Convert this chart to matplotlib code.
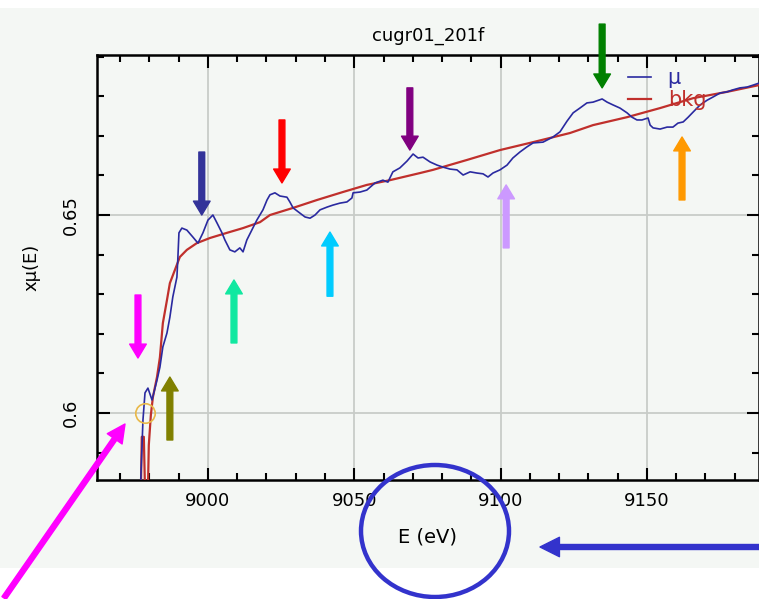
import matplotlib
matplotlib.use("Agg")
import matplotlib.pyplot as plt
from matplotlib.patches import Ellipse, Rectangle
from matplotlib.ticker import MultipleLocator, FixedLocator

# ---- data ----
mu_E = [8976.8, 8977.8, 8978.5, 8979.5, 8980.9, 8982.6, 8983.6, 8984.6, 8986.0, 8987.0,
        8988.0, 8989.4, 8989.7, 8990.1, 8991.1, 8992.8, 8994.9, 8996.6, 8998.3, 9000.0,
        9001.7, 9003.1, 9004.8, 9005.8, 9007.5, 9009.2, 9010.9, 9012.0, 9013.3, 9015.0,
        9016.7, 9018.8, 9020.2, 9021.2, 9022.9, 9024.6, 9027.0, 9028.0, 9029.1, 9031.4,
        9033.2, 9034.9, 9036.6, 9038.3, 9040.7, 9042.7, 9045.1, 9047.5, 9049.2, 9049.6,
        9052.0, 9054.3, 9057.1, 9059.8, 9061.5, 9063.2, 9065.6, 9068.0, 9070.1, 9071.8,
        9073.5, 9075.9, 9078.3, 9080.3, 9082.7, 9085.1, 9087.2, 9089.6, 9091.9, 9094.0,
        9095.7, 9097.4, 9099.8, 9102.2, 9104.2, 9106.6, 9109.0, 9111.1, 9114.5, 9117.9,
        9120.3, 9122.7, 9124.8, 9127.1, 9129.5, 9131.6, 9134.7, 9136.4, 9138.4, 9140.8,
        9143.2, 9144.9, 9146.6, 9148.3, 9150.4, 9151.1, 9152.1, 9154.5, 9156.9, 9158.9,
        9160.6, 9162.4, 9164.1, 9165.8, 9168.2, 9170.6, 9172.6, 9175.0, 9177.4, 9179.4,
        9181.8, 9184.2, 9186.3, 9188.3]
mu_val = [0.5780, 0.5982, 0.6051, 0.6063, 0.6033, 0.6083, 0.6116, 0.6167, 0.6202, 0.6242,
          0.6293, 0.6343, 0.6386, 0.6455, 0.6467, 0.6462, 0.6444, 0.6429, 0.6455, 0.6487,
          0.6500, 0.6480, 0.6455, 0.6437, 0.6412, 0.6407, 0.6417, 0.6407, 0.6437, 0.6462,
          0.6487, 0.6513, 0.6538, 0.6551, 0.6556, 0.6548, 0.6545, 0.6533, 0.6518, 0.6505,
          0.6495, 0.6492, 0.6500, 0.6513, 0.6520, 0.6525, 0.6530, 0.6533, 0.6543, 0.6556,
          0.6558, 0.6563, 0.6581, 0.6588, 0.6583, 0.6609, 0.6619, 0.6636, 0.6654, 0.6644,
          0.6646, 0.6634, 0.6626, 0.6621, 0.6616, 0.6614, 0.6601, 0.6609, 0.6606, 0.6604,
          0.6596, 0.6606, 0.6614, 0.6626, 0.6644, 0.6659, 0.6672, 0.6682, 0.6684, 0.6697,
          0.6710, 0.6737, 0.6758, 0.6770, 0.6783, 0.6785, 0.6793, 0.6785, 0.6778, 0.6770,
          0.6758, 0.6747, 0.6740, 0.6740, 0.6745, 0.6727, 0.6720, 0.6717, 0.6722, 0.6722,
          0.6732, 0.6735, 0.6747, 0.6760, 0.6778, 0.6790, 0.6798, 0.6808, 0.6811, 0.6816,
          0.6821, 0.6823, 0.6828, 0.6833]

bkg_E = [8977.1, 8977.4, 8978.1, 8978.5, 8979.5, 8979.8, 8980.5, 8981.2, 8982.6, 8983.6,
         8984.6, 8986.0, 8987.0, 8988.7, 8990.4, 8992.8, 8996.2, 9000.7, 9006.5, 9012.0,
         9017.8, 9021.2, 9029.1, 9037.3, 9046.1, 9054.3, 9062.2, 9072.5, 9076.9, 9088.5,
         9099.8, 9111.1, 9123.7, 9131.6, 9143.2, 9154.5, 9165.8, 9177.4, 9188.3]
bkg_val = [0.5806, 0.5940, 0.5940, 0.5806, 0.5806, 0.5919, 0.5995, 0.6040, 0.6091, 0.6141,
           0.6227, 0.6285, 0.6328, 0.6361, 0.6394, 0.6412, 0.6429, 0.6442, 0.6455, 0.6467,
           0.6482, 0.6500, 0.6518, 0.6538, 0.6558, 0.6576, 0.6588, 0.6606, 0.6614, 0.6639,
           0.6664, 0.6684, 0.6707, 0.6727, 0.6747, 0.6770, 0.6795, 0.6811, 0.6828]

# marker arrows: x, tail y, tip y, colour
arrow_E    = [8976.1, 8987.0, 8997.9, 9008.9, 9025.3, 9041.7, 9069.0, 9101.9, 9134.7, 9162.0]
arrow_tail = [0.6298, 0.5932, 0.6659, 0.6177, 0.6740, 0.6295, 0.6821, 0.6417, 0.6982, 0.6538]
arrow_tip  = [0.6139, 0.6091, 0.6500, 0.6336, 0.6581, 0.6457, 0.6664, 0.6576, 0.6821, 0.6697]
arrow_col  = ["#ff00ff", "#808000", "#333399", "#10e8a0", "#ff0000",
              "#00ccff", "#800080", "#cc99ff", "#008000", "#ff9900"]

circle_E, circle_mu = 8978.5, 0.600

x_ticks = [9000, 9050, 9100, 9150]
y_ticks = [0.6, 0.65]
y_tick_labels = ["0.6", "0.65"]

# ---- figure ----
W, H = 759, 599
fig = plt.figure(figsize=(W / 100, H / 100), dpi=100, facecolor="white")
bg = "#f4f7f4"
fig.patches.append(Rectangle((0, 1 - 568 / H), 1, (568 - 8) / H, transform=fig.transFigure,
                             facecolor=bg, edgecolor="none", zorder=-10))

ax = fig.add_axes([97 / W, 1 - 480 / H, (759 - 97) / W, (480 - 55) / H])
ax.set_facecolor(bg)
ax.set_xlim(8962.1, 9188.3)
ax.set_ylim(0.5831, 0.6904)

ax.xaxis.set_major_locator(FixedLocator(x_ticks))
ax.xaxis.set_minor_locator(MultipleLocator(10))
ax.yaxis.set_major_locator(FixedLocator(y_ticks))
ax.yaxis.set_minor_locator(MultipleLocator(0.01))
ax.set_xticklabels([str(t) for t in x_ticks])
ax.set_yticklabels(y_tick_labels, rotation=90, va="center")
ax.tick_params(which="both", direction="in", top=True, right=True, width=1.5, color="black")
ax.tick_params(which="major", length=9, labelsize=13)
ax.tick_params(which="minor", length=5)
ax.tick_params(axis="x", pad=9)
ax.tick_params(axis="y", pad=12)
for s in ax.spines.values():
    s.set_linewidth(1.8)
ax.grid(True, which="major", color="#c8ccc8", lw=1.3)
ax.set_axisbelow(True)

ax.plot(bkg_E, bkg_val, color="#c0302c", lw=1.6, label="bkg", zorder=3)
ax.plot(mu_E, mu_val, color="#2a2aa0", lw=1.2, label="μ", zorder=4)

ax.plot([circle_E], [circle_mu], marker="o", ms=14, mfc="none", mec="#e8b848", mew=1.2, zorder=5)

ax.set_title("cugr01_201f", fontsize=13, pad=10)
ax.set_xlabel("E (eV)", fontsize=14, labelpad=12)
ax.set_ylabel("xμ(E)", fontsize=13, labelpad=16)

leg = ax.legend(handles=ax.lines[1::-1], loc="upper left", bbox_to_anchor=(0.774, 1.013),
                frameon=False, fontsize=15, handlelength=1.1, handletextpad=0.8,
                labelspacing=0.1, labelcolor="linecolor")

for xe, yt, yh, c in zip(arrow_E, arrow_tail, arrow_tip, arrow_col):
    ax.annotate("", xy=(xe, yh), xytext=(xe, yt), annotation_clip=False,
                arrowprops=dict(width=4.2, headwidth=12, headlength=10, color=c, shrink=0),
                zorder=6)

# call-outs outside the axes
fig_arrow = dict(xycoords="figure pixels", textcoords="figure pixels")
ax.annotate("", xy=(125, H - 424), xytext=(4, H - 598), annotation_clip=False,
            arrowprops=dict(width=3.6, headwidth=13, headlength=13, color="#ff00ff", shrink=0),
            **fig_arrow)
ax.annotate("", xy=(540, H - 547), xytext=(760, H - 547), annotation_clip=False,
            arrowprops=dict(width=3.6, headwidth=14, headlength=14, color="#3333cc", shrink=0),
            **fig_arrow)
fig.patches.append(Ellipse((435 / W, 1 - 531 / H), 148 / W, 132 / H, transform=fig.transFigure,
                           facecolor="none", edgecolor="#3333cc", lw=3.2, zorder=10))

fig.savefig("out.png", dpi=100, facecolor="white")
